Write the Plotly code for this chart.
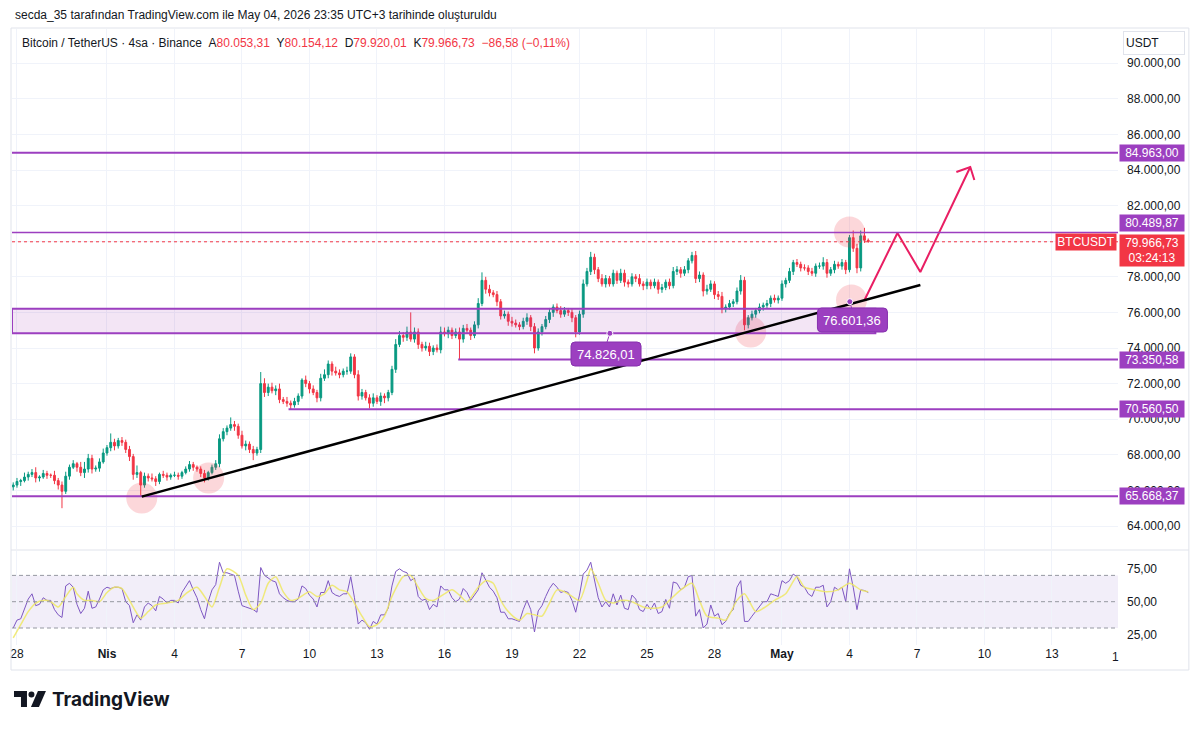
import plotly.graph_objects as go
import pandas as pd

# ---------------- data ----------------
first_open = 66200
closes = [
    66300, 66500, 66550, 66750, 66900, 67000, 66700, 66750, 66950, 66850,
    66850, 66550, 66300, 65950, 66800, 67300, 67500, 67300, 67000, 67200,
    67800, 67200, 67250, 67600, 68100, 68400, 68700, 68500, 68800, 68700,
    68300, 67900, 66900, 67000, 66300, 66800, 66700, 66650, 66500, 66900,
    66850, 66750, 66850, 66850, 66800, 67000, 67200, 67450, 67300, 67200,
    66950, 66700, 67000, 67300, 67500, 68900, 69300, 69500, 69700, 69600,
    69100, 68500, 68600, 68300, 68100, 68300, 72000, 71500, 71800, 71600,
    71700, 71100, 71000, 70900, 70800, 71000, 71300, 72200, 72000, 71700,
    71500, 71200, 72300, 72500, 73100, 72700, 72600, 72500, 72700, 72700,
    73500, 72500, 71300, 71500, 71200, 70900, 71200, 71000, 71300, 71200,
    71500, 72800, 74200, 74700, 74600, 74900, 74500, 74900, 74200, 74000,
    74100, 73800, 74000, 73900, 74900, 74800, 75000, 74700, 74900, 74500,
    75100, 75000, 74700, 75300, 76500, 77800, 77300, 77100, 77000, 76600,
    75800, 75900, 75500, 75400, 75300, 75200, 75500, 75700, 75200, 74000,
    74900, 75200, 75600, 76000, 76300, 76100, 75900, 76100, 76000, 75700,
    74900, 75900, 77600, 78300, 79100, 78400, 77900, 77600, 77900, 77600,
    78200, 77800, 78200, 77700, 77600, 78000, 77900, 77600, 77500, 77700,
    77500, 77700, 77300, 77400, 77700, 77500, 78300, 78400, 78200, 78400,
    78900, 79200, 77900, 78100, 77200, 77300, 77600, 77000, 76900, 76200,
    76300, 76500, 76600, 77200, 77800, 75300, 75700, 75900, 76100, 76300,
    76400, 76500, 76800, 76700, 76800, 77600, 77800, 78300, 78800, 78700,
    78500, 78500, 78300, 78200, 78600, 78600, 78800, 78200, 78400, 78700,
    78600, 78800, 78400, 80200, 79600, 78500, 80300, 80053.31, 79966.73,
]
upper_wick = [
    150, 200, 100, 250, 150, 200, 300, 100, 200, 150,
    100, 250, 150, 200, 250, 150, 200, 100, 300, 400,
    250, 200, 150, 200, 250, 150, 500, 200, 150, 200,
    150, 200, 150, 400, 100, 200, 150, 250, 150, 100,
    200, 150, 100, 200, 150, 100, 150, 200, 150, 100,
    150, 200, 100, 150, 200, 250, 200, 150, 400, 200,
    150, 250, 200, 150, 200, 150, 650, 300, 200, 250,
    200, 300, 150, 250, 150, 200, 150, 100, 250, 150,
    200, 150, 250, 300, 200, 150, 250, 200, 150, 250,
    200, 150, 250, 200, 150, 200, 250, 150, 200, 150,
    150, 200, 300, 250, 200, 300, 1100, 250, 200, 150,
    250, 200, 150, 200, 300, 250, 200, 150, 200, 250,
    200, 250, 150, 200, 300, 450, 200, 250, 150, 200,
    150, 200, 150, 250, 200, 150, 200, 250, 150, 200,
    200, 150, 200, 250, 150, 200, 250, 200, 150, 200,
    150, 200, 250, 200, 300, 200, 150, 250, 200, 150,
    200, 150, 250, 200, 150, 200, 150, 250, 150, 200,
    150, 200, 150, 200, 150, 200, 250, 200, 150, 200,
    150, 200, 250, 200, 150, 250, 200, 150, 200, 250,
    150, 200, 150, 200, 300, 200, 150, 200, 150, 200,
    150, 200, 150, 200, 150, 200, 150, 200, 150, 200,
    150, 200, 150, 200, 150, 200, 300, 200, 150, 200,
    150, 200, 150, 150, 400, 250, 300, 450, 101,
]
lower_wick = [
    200, 150, 250, 100, 200, 150, 250, 200, 100, 200,
    150, 200, 250, 950, 150, 200, 100, 250, 200, 300,
    200, 250, 150, 200, 100, 150, 200, 250, 150, 200,
    200, 250, 300, 200, 650, 150, 200, 150, 250, 150,
    150, 200, 150, 100, 200, 150, 100, 150, 200, 150,
    200, 250, 150, 100, 150, 200, 150, 200, 150, 250,
    200, 150, 250, 200, 400, 150, 200, 250, 200, 150,
    250, 200, 150, 200, 250, 150, 200, 150, 200, 250,
    150, 250, 200, 150, 200, 250, 150, 200, 150, 200,
    150, 200, 250, 200, 150, 300, 200, 150, 250, 300,
    200, 150, 200, 150, 250, 200, 150, 200, 250, 200,
    150, 250, 200, 150, 200, 150, 250, 200, 150, 1170,
    200, 150, 250, 150, 200, 150, 250, 200, 150, 250,
    200, 150, 250, 200, 150, 200, 150, 200, 250, 300,
    150, 200, 150, 200, 250, 150, 200, 150, 200, 250,
    300, 150, 200, 150, 200, 250, 200, 150, 200, 150,
    150, 200, 150, 250, 200, 150, 200, 150, 250, 200,
    200, 150, 250, 200, 150, 200, 150, 200, 250, 150,
    200, 150, 250, 200, 300, 200, 150, 250, 200, 250,
    200, 150, 200, 150, 200, 300, 200, 150, 200, 150,
    200, 150, 200, 150, 200, 150, 200, 150, 200, 150,
    200, 150, 200, 150, 200, 150, 200, 250, 150, 200,
    150, 200, 250, 150, 200, 300, 200, 150, 47,
]
rsi = [
    30, 36, 37, 44, 52, 56, 47, 48, 53, 51,
    51, 44, 40, 38, 62, 64, 61, 48, 41, 45,
    58, 45, 46, 52, 59, 61, 60, 61, 61, 60,
    50, 47, 34, 40, 36, 46, 49, 47, 43, 54,
    52, 49, 51, 51, 49, 57, 62, 66, 59, 53,
    44, 37, 50, 59, 63, 80, 72, 72, 71, 70,
    58, 47, 46, 45, 44, 42, 76, 70, 68, 66,
    65, 56, 53, 51, 50, 50, 52, 62, 60, 55,
    52, 46, 57, 57, 66, 57, 55, 54, 56, 56,
    69, 53, 33, 36, 34, 29, 35, 33, 40, 40,
    45, 62, 73, 75, 73, 72, 66, 68, 54, 51,
    52, 44, 48, 46, 62, 59, 59, 53, 50, 52,
    60, 57, 51, 55, 59, 72, 66, 61, 58, 53,
    42, 42, 37, 37, 36, 35, 44, 51, 44, 27,
    43, 47, 54, 60, 64, 61, 57, 58, 57, 51,
    42, 55, 71, 74, 80, 65, 53, 46, 50, 46,
    56, 47.5, 55, 45, 44, 55, 52, 44, 42.5, 48,
    44, 49, 41, 42.5, 51.7, 45, 65, 64, 59, 61,
    69, 70, 39, 44, 30, 33, 47.5, 39, 41, 32.5,
    35, 41, 44, 61, 66, 35, 35, 39, 42.5, 46,
    50, 50, 56, 55, 54, 66, 64, 66, 71, 69,
    62.5, 61, 56, 54, 61, 61, 62.5, 46, 50, 61,
    59, 61, 50, 75, 61, 44, 59, 58.5, 57,
]
# RSI-based moving average, read at sampled candles (candle index, value)
ma_idx = [0, 2, 4, 6, 8, 10, 12, 14, 16, 17,
          19, 21, 23, 25, 27, 29, 31, 34, 36, 38,
          41, 44, 46, 49, 51, 53, 55, 57, 60, 62,
          64, 66, 68, 70, 72, 74, 76, 79, 81, 83,
          85, 87, 89, 91, 93, 95, 97, 99, 101, 104,
          106, 108, 110, 112, 115, 117, 119, 121, 124, 126,
          128, 130, 132, 135, 137, 139, 141, 143, 145, 147,
          149, 151, 153, 154, 156, 158, 160, 162, 165, 168,
          170, 173, 175, 178, 181, 183, 185, 188, 190, 193,
          195, 198, 200, 203, 206, 209, 211, 214, 217, 220,
          223, 226, 228]
ma_val = [22.5, 32.5, 42.5, 49, 51, 50, 46, 54, 61, 56,
          51, 51, 50, 57, 61, 60, 51, 37.5, 42.5, 47.5,
          49, 51, 56, 61, 54, 46, 61, 75, 70, 55,
          44, 49, 64, 69, 57.5, 51, 52.5, 57.5, 54, 56,
          62.5, 59, 57.5, 49, 39, 31, 32.5, 39, 54, 69,
          70, 61, 52.5, 51, 56, 59, 55, 50, 61, 66,
          64, 51, 42.5, 36, 41, 40, 39, 49, 59, 57.5,
          54, 51, 66, 75, 64, 51, 49, 51, 50, 46,
          45, 46, 51, 59, 64, 51, 39, 37.5, 36, 51,
          56, 42.5, 45, 51, 56, 69, 61, 59, 57.5, 59,
          64, 59, 57.5]

price_ticks = [64000, 66000, 68000, 70000, 72000, 74000, 76000, 78000,
               80000, 82000, 84000, 86000, 88000, 90000]
date_ticks = ["2026-03-28", "2026-04-01", "2026-04-04", "2026-04-07", "2026-04-10",
              "2026-04-13", "2026-04-16", "2026-04-19", "2026-04-22", "2026-04-25",
              "2026-04-28", "2026-05-01", "2026-05-04", "2026-05-07", "2026-05-10",
              "2026-05-13"]
date_labels = ["28", "<b>Nis</b>", "4", "7", "10", "13", "16", "19", "22", "25",
               "28", "<b>May</b>", "4", "7", "10", "13"]

# horizontal levels drawn on chart
level_prices = [84963.00, 80489.87, 73350.58, 70560.50, 65668.37]
level_starts = [None, None, "2026-04-16 14:40", "2026-04-09 01:40", None]
level_widths = [2, 1.5, 2, 2, 2]
zone_low, zone_high = 74826.01, 76200
zone_end = "2026-05-05 03:36"

trend_t = ["2026-04-02 13:06", "2026-05-07 03:36"]
trend_p = [65650, 77540]

circle_t = ["2026-04-02 13:06", "2026-04-05 12:26", "2026-04-29 14:37",
            "2026-05-04 02:10", "2026-05-04 00:00"]
circle_p = [65573, 66697, 74899, 76697, 80517]

arrow_t = ["2026-05-04 16:04", "2026-05-06 03:10", "2026-05-07 03:36", "2026-05-09 08:52"]
arrow_p = [76697, 80461, 78270, 84169]
head_t = ["2026-05-08 18:00", "2026-05-09 08:52", "2026-05-09 13:12"]
head_p = [83888, 84169, 83438]

note_text = ["74.826,01", "76.601,36"]
note_box_t = ["2026-04-23 04:19", "2026-05-04 03:10"]
note_box_p = [73663, 75573]
note_dot_t = ["2026-04-23 08:24", "2026-05-04 00:22"]
note_dot_p = [74826.01, 76601.36]

last_price = 79966.73

# ---------------- derived ----------------
dates = pd.date_range("2026-03-27 20:00", periods=len(closes), freq="4h")
opens = [first_open] + closes[:-1]
highs = [max(o, c) + u for o, c, u in zip(opens, closes, upper_wick)]
lows = [min(o, c) - w for o, c, w in zip(opens, closes, lower_wick)]

def tr(v):
    s = f"{v:,.2f}"
    return s.replace(",", "#").replace(".", ",").replace("#", ".")

W, H = 1200, 730
L, R, T, B = 10, 1118, 29, 645
def xp(px): return (px - L) / (R - L)
def yp(py): return (B - py) / (B - T)

X_LEFT = "2026-03-27 18:41"
X_RIGHT = "2026-05-15 22:26"
main_dom = [(B - 549) / (B - T), 1]
rsi_dom = [0, (B - 551) / (B - T)]

UP, DOWN = "#089981", "#F23645"
PURPLE = "#9C3FC0"
TXT = "#131722"
GRID = "#F0F3FA"
FONT = "Liberation Sans, Arial, sans-serif"

fig = go.Figure()
fig.add_trace(go.Candlestick(
    x=dates, open=opens, high=highs, low=lows, close=closes,
    increasing=dict(line=dict(color=UP, width=1), fillcolor=UP),
    decreasing=dict(line=dict(color=DOWN, width=1), fillcolor=DOWN),
    whiskerwidth=0, xaxis="x", yaxis="y", showlegend=False, hoverinfo="skip"))

# highlight circles
fig.add_trace(go.Scatter(x=pd.to_datetime(circle_t), y=circle_p, mode="markers",
                         marker=dict(size=31, color="rgba(242,54,69,0.2)", line=dict(width=0)),
                         xaxis="x", yaxis="y", showlegend=False, hoverinfo="skip"))
# projected path
fig.add_trace(go.Scatter(x=pd.to_datetime(arrow_t), y=arrow_p, mode="lines",
                         line=dict(color="#E91E63", width=2),
                         xaxis="x", yaxis="y", showlegend=False, hoverinfo="skip"))
fig.add_trace(go.Scatter(x=pd.to_datetime(head_t), y=head_p, mode="lines",
                         line=dict(color="#E91E63", width=2),
                         xaxis="x", yaxis="y", showlegend=False, hoverinfo="skip"))
# RSI
fig.add_trace(go.Scatter(x=dates, y=rsi, mode="lines", line=dict(color="#7E57C2", width=1),
                         xaxis="x", yaxis="y2", showlegend=False, hoverinfo="skip"))
fig.add_trace(go.Scatter(x=[dates[i] for i in ma_idx], y=ma_val, mode="lines",
                         line=dict(color="rgba(238,232,100,0.85)", width=1.5, shape="spline", smoothing=0.7),
                         xaxis="x", yaxis="y2", showlegend=False, hoverinfo="skip"))

shapes = []
# RSI band + dashed lines
shapes.append(dict(type="rect", xref="paper", yref="y2", x0=0, x1=1, y0=30, y1=70,
                   fillcolor="rgba(126,87,194,0.10)", line=dict(width=0), layer="below"))
for lv in (70, 50, 30):
    shapes.append(dict(type="line", xref="paper", yref="y2", x0=0, x1=1, y0=lv, y1=lv,
                       line=dict(color="#9598A1", width=1, dash="4px,3px")))
# zone
shapes.append(dict(type="rect", xref="x", yref="y", x0=X_LEFT, x1=zone_end,
                   y0=zone_low, y1=zone_high, fillcolor="rgba(156,39,176,0.12)",
                   line=dict(color=PURPLE, width=2)))
# levels
for p, s, w in zip(level_prices, level_starts, level_widths):
    shapes.append(dict(type="line", xref="x", yref="y", x0=s if s else X_LEFT, x1=X_RIGHT,
                       y0=p, y1=p, line=dict(color=PURPLE, width=w)))
# current price dotted line
shapes.append(dict(type="line", xref="x", yref="y", x0=X_LEFT, x1=X_RIGHT, y0=last_price,
                   y1=last_price, line=dict(color=DOWN, width=1, dash="dot")))
# trend line
shapes.append(dict(type="line", xref="x", yref="y", x0=trend_t[0], x1=trend_t[1],
                   y0=trend_p[0], y1=trend_p[1], line=dict(color="black", width=2.5)))
# note connectors, dots and rounded boxes
rr = ("M -31,-12 L 31,-12 Q 35,-12 35,-8 L 35,8 Q 35,12 31,12 L -31,12 "
      "Q -35,12 -35,8 L -35,-8 Q -35,-12 -31,-12 Z")
for bt, bp, dt, dp in zip(note_box_t, note_box_p, note_dot_t, note_dot_p):
    shapes.append(dict(type="line", xref="x", yref="y", x0=dt, x1=bt, y0=dp,
                       y1=bp + 500, line=dict(color=PURPLE, width=1)))
    shapes.append(dict(type="circle", xref="x", yref="y", xsizemode="pixel", ysizemode="pixel",
                       xanchor=dt, yanchor=dp, x0=-3, x1=3, y0=-3, y1=3,
                       fillcolor=PURPLE, line=dict(color="white", width=1)))
    shapes.append(dict(type="path", xref="x", yref="y", xsizemode="pixel", ysizemode="pixel",
                       xanchor=bt, yanchor=bp, path=rr, fillcolor=PURPLE,
                       line=dict(color="#8630AE", width=1)))
# frame + pane separator
shapes.append(dict(type="rect", xref="paper", yref="paper", x0=xp(9), x1=xp(1189),
                   y0=yp(670), y1=yp(28), line=dict(color="#E0E3EB", width=1)))
shapes.append(dict(type="line", xref="paper", yref="paper", x0=xp(9), x1=xp(1189),
                   y0=yp(550), y1=yp(550), line=dict(color="#E0E3EB", width=1)))
# TradingView logo glyph
shapes.append(dict(type="path", xref="paper", yref="paper",
                   path=f"M{xp(12)},{yp(691)} L{xp(25)},{yp(691)} L{xp(25)},{yp(707)} "
                        f"L{xp(19)},{yp(707)} L{xp(19)},{yp(697)} L{xp(12)},{yp(697)} Z",
                   fillcolor="#131722", line=dict(width=0)))
shapes.append(dict(type="circle", xref="paper", yref="paper", x0=xp(26.5), x1=xp(32.5),
                   y0=yp(697.5), y1=yp(691.5), fillcolor="#131722", line=dict(width=0)))
shapes.append(dict(type="path", xref="paper", yref="paper",
                   path=f"M{xp(36)},{yp(691)} L{xp(44)},{yp(691)} L{xp(37)},{yp(707)} "
                        f"L{xp(29)},{yp(707)} Z",
                   fillcolor="#131722", line=dict(width=0)))

ann = []
# header
ann.append(dict(xref="paper", yref="paper", x=xp(11), y=yp(15), xanchor="left", yanchor="middle",
                text="secda_35 tarafından TradingView.com ile May 04, 2026 23:35 UTC+3 tarihinde oluşturuldu",
                showarrow=False, font=dict(size=12, color=TXT, family=FONT)))
red = lambda s: f"<span style='color:{DOWN}'>{s}</span>"
sp = "\u00a0\u00a0"
legend = ("Bitcoin / TetherUS · 4sa · Binance" + sp + "A" + red("80.053,31") + sp + "Y" +
          red("80.154,12") + sp + "D" + red("79.920,01") + sp + "K" + red("79.966,73") + sp +
          red("−86,58 (−0,11%)"))
ann.append(dict(xref="paper", yref="paper", x=xp(18), y=yp(43), xanchor="left", yanchor="middle",
                text=legend, showarrow=False, font=dict(size=12, color=TXT, family=FONT)))
# USDT button
ann.append(dict(xref="paper", yref="paper", x=1, xshift=5, y=yp(43), xanchor="left", yanchor="middle",
                text="USDT", showarrow=False, align="left", width=56, height=18, borderpad=2,
                bgcolor="white", bordercolor="#E0E3EB", borderwidth=1,
                font=dict(size=12, color=TXT, family=FONT)))
# level tags
for p in level_prices:
    ann.append(dict(xref="paper", yref="y", x=1, xshift=1, y=p, xanchor="left",
                    yanchor="bottom" if p == 80489.87 else "middle",
                    text=tr(p), showarrow=False, width=62, height=14, borderpad=1,
                    bgcolor=PURPLE, font=dict(size=12, color="white", family=FONT)))
# current price tag
ann.append(dict(xref="paper", yref="y", x=1, xshift=1, y=last_price, yshift=8, xanchor="left",
                yanchor="top", text=tr(last_price) + "<br>03:24:13", showarrow=False, width=62,
                height=29, borderpad=1, bgcolor=DOWN, font=dict(size=12, color="white", family=FONT)))
ann.append(dict(xref="paper", yref="y", x=1, xshift=-1, y=last_price, xanchor="right",
                yanchor="middle", text="BTCUSDT", showarrow=False, width=58, height=14, borderpad=1,
                bgcolor=DOWN, font=dict(size=12, color="white", family=FONT)))
# notes
for t, bt, bp in zip(note_text, note_box_t, note_box_p):
    ann.append(dict(xref="x", yref="y", x=bt, y=bp, xanchor="center", yanchor="middle",
                    text=t, showarrow=False, font=dict(size=13, color="white", family=FONT)))
# truncated last date label
ann.append(dict(xref="paper", yref="paper", x=xp(1115), y=yp(657), xanchor="center",
                yanchor="middle", text="1", showarrow=False, font=dict(size=12, color=TXT, family=FONT)))
# footer
ann.append(dict(xref="paper", yref="paper", x=xp(48), y=yp(700), xanchor="left", yanchor="middle",
                text="<b>TradingView</b>", showarrow=False,
                font=dict(size=19, color="#131722", family="Inter, Roboto, sans-serif")))

fig.update_layout(
    width=W, height=H, margin=dict(l=L, r=W - R, t=T, b=H - B),
    paper_bgcolor="white", plot_bgcolor="white",
    font=dict(family=FONT, size=12, color=TXT),
    showlegend=False, shapes=shapes, annotations=ann,
    xaxis=dict(domain=[0, 1], anchor="y2", type="date", range=[X_LEFT, X_RIGHT],
               tickvals=date_ticks, ticktext=date_labels, showgrid=True, gridcolor=GRID,
               zeroline=False, showline=False, ticks="", rangeslider=dict(visible=False),
               tickfont=dict(size=12, color=TXT)),
    yaxis=dict(domain=main_dom, anchor="x", side="right", range=[62708, 91921],
               tickvals=price_ticks, ticktext=[tr(v) for v in price_ticks],
               showgrid=True, gridcolor=GRID, zeroline=False, showline=False, ticks="",
               ticklabelstandoff=8, tickfont=dict(size=12, color=TXT)),
    yaxis2=dict(domain=rsi_dom, anchor="x", side="right", range=[17.07, 88.55],
                tickvals=[25, 50, 75], ticktext=["25,00", "50,00", "75,00"],
                showgrid=False, zeroline=False, showline=False, ticks="",
                ticklabelstandoff=8, tickfont=dict(size=12, color=TXT)),
)

fig.write_html("out.html")
